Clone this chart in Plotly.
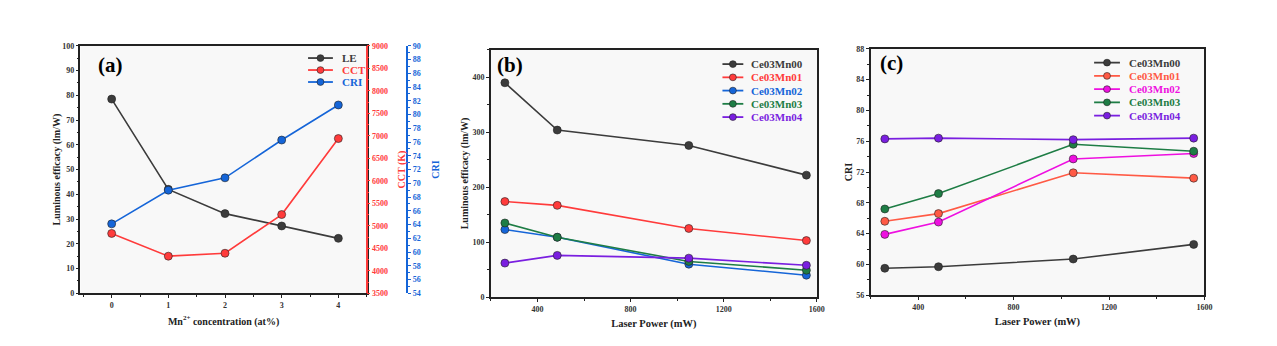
import plotly.graph_objects as go

# ---------------- data ----------------
mn_conc = [0, 1, 2, 3, 4]
le_vals = [78.5, 42.0, 32.2, 27.2, 22.2]
cct_vals = [4830, 4325, 4390, 5250, 6940]
cri_vals = [64.1, 69.0, 70.8, 76.3, 81.4]

laser_power = [260, 485, 1050, 1555]
samples = ["Ce03Mn00", "Ce03Mn01", "Ce03Mn02", "Ce03Mn03", "Ce03Mn04"]
le_b_mn00 = [390, 304, 276, 222]
le_b_mn01 = [174, 167, 125, 103]
le_b_mn02 = [123, 109, 60, 40]
le_b_mn03 = [135, 109, 65, 49]
le_b_mn04 = [62, 76, 71, 58]

cri_c_mn00 = [59.5, 59.7, 60.7, 62.6]
cri_c_mn01 = [65.6, 66.6, 71.9, 71.2]
cri_c_mn02 = [63.9, 65.5, 73.7, 74.4]
cri_c_mn03 = [67.2, 69.2, 75.6, 74.7]
cri_c_mn04 = [76.3, 76.4, 76.2, 76.4]

# ---------------- style ----------------
W, H = 1277, 346
FONT = "Liberation Serif"
GREY = "#3c3c3c"
RED = "#ff3b3b"
BLUE = "#1565d8"
colors_b = [GREY, RED, BLUE, "#1e7d45", "#7a1fe0"]
colors_c = [GREY, "#ff5a45", "#ee10e0", "#1e7d45", "#7a1fe0"]

def px(x):
    return x / W

def py(y):
    return 1 - y / H

fig = go.Figure()

def add_line(x, y, color, name, xa, ya):
    fig.add_trace(go.Scatter(
        x=x, y=y, mode="lines+markers", xaxis=xa, yaxis=ya, name=name,
        showlegend=False,
        line=dict(color=color, width=1.6),
        marker=dict(size=8, color=color, line=dict(color="#222222", width=0.6)),
    ))

# panel (a)
add_line(mn_conc, le_vals, GREY, "LE", "x", "y")
add_line(mn_conc, cct_vals, RED, "CCT", "x", "y2")
add_line(mn_conc, cri_vals, BLUE, "CRI", "x", "y3")

# panel (b)
for s, vals, c in zip(samples, [le_b_mn00, le_b_mn01, le_b_mn02, le_b_mn03, le_b_mn04], colors_b):
    add_line(laser_power, vals, c, s, "x2", "y4")

# panel (c)
for s, vals, c in zip(samples, [cri_c_mn00, cri_c_mn01, cri_c_mn02, cri_c_mn03, cri_c_mn04], colors_c):
    add_line(laser_power, vals, c, s, "x3", "y5")

titlefont = dict(family=FONT, size=10, color="#222222")
xtitlefont = dict(family=FONT, size=10.5, color="#222222")

def axis_common(color="#222222", fs=8):
    tc = "#333333" if color == "#222222" else color
    return dict(
        showline=True, linecolor=color, linewidth=1.5,
        ticks="outside", ticklen=3, tickwidth=1.2, tickcolor=color,
        showgrid=False, zeroline=False,
        tickfont=dict(family=FONT, size=fs, color=tc, weight="bold"),
        minor=dict(ticks="outside", ticklen=2, tickwidth=1, tickcolor=color),
    )

dom_a = [px(81), px(369)]
ydom_a = [py(297), py(43)]
dom_b = [px(494), px(822)]
ydom_b = [py(301), py(47)]
dom_c = [px(876), px(1212)]
ydom_c = [py(299), py(46)]

layout = dict(
    width=W, height=H, margin=dict(l=0, r=0, t=0, b=0),
    paper_bgcolor="white", plot_bgcolor="#f8f8f8",
    font=dict(family=FONT),
    showlegend=False,
    xaxis=dict(domain=dom_a, anchor="y", range=[-0.55, 4.5], tickvals=[0, 1, 2, 3, 4],
               mirror=True,
               title=dict(text="<b>Mn<sup>2+</sup> concentration (at%)</b>", font=titlefont, standoff=9),
               **axis_common()),
    yaxis=dict(domain=ydom_a, anchor="x", range=[0, 100], dtick=10, mirror=True,
               title=dict(text="<b>Luminous efficacy (lm/W)</b>", font=titlefont, standoff=0),
               **axis_common()),
    yaxis2=dict(overlaying="y", side="right", anchor="free", position=px(369),
                range=[3500, 9000], dtick=500,
                title=dict(text="<b>CCT (K)</b>", font=dict(family=FONT, size=10, color=RED), standoff=10),
                **axis_common(RED)),
    yaxis3=dict(overlaying="y", side="right", anchor="free", position=px(410),
                range=[54, 90], dtick=2,
                title=dict(text="<b>CRI</b>", font=dict(family=FONT, size=10, color=BLUE), standoff=11),
                **axis_common(BLUE)),
    xaxis2=dict(domain=dom_b, anchor="y4", range=[200, 1600], tickvals=[400, 800, 1200, 1600],
                mirror=True,
                title=dict(text="<b>Laser Power (mW)</b>", font=xtitlefont, standoff=7),
                **axis_common()),
    yaxis4=dict(domain=ydom_b, anchor="x2", range=[0, 450], tickvals=[0, 100, 200, 300, 400],
                mirror=True,
                title=dict(text="<b>Luminous efficacy (lm/W)</b>", font=titlefont, standoff=2),
                **axis_common()),
    xaxis3=dict(domain=dom_c, anchor="y5", range=[200, 1600], tickvals=[400, 800, 1200, 1600],
                mirror=True,
                title=dict(text="<b>Laser Power (mW)</b>", font=xtitlefont, standoff=7),
                **axis_common()),
    yaxis5=dict(domain=ydom_c, anchor="x3", range=[56, 88], dtick=4, mirror=True,
                title=dict(text="<b>CRI</b>", font=titlefont, standoff=2),
                **axis_common()),
)

layout["xaxis"]["minor"]["dtick"] = 0.5
layout["xaxis"]["minor"]["tick0"] = 0
layout["yaxis"]["minor"]["dtick"] = 5
layout["yaxis2"]["minor"]["dtick"] = 250
layout["yaxis3"]["minor"]["dtick"] = 1
layout["xaxis2"]["minor"]["dtick"] = 200
layout["xaxis2"]["minor"]["tick0"] = 0
layout["yaxis4"]["minor"]["dtick"] = 50
layout["xaxis3"]["minor"]["dtick"] = 200
layout["xaxis3"]["minor"]["tick0"] = 0
layout["yaxis5"]["minor"]["dtick"] = 2

fig.update_layout(**layout)

# panel labels
for label, x, y in [("(a)", 97, 63), ("(b)", 498, 63), ("(c)", 884, 61)]:
    fig.add_annotation(text=f"<b>{label}</b>", x=px(x), y=py(y), xref="paper", yref="paper",
                       xanchor="left", yanchor="middle", showarrow=False,
                       font=dict(family=FONT, size=21, color="black"))

# compact legends (line + marker + coloured text)
def draw_legend(names, colors, x0, x1, xt, y0, dy, fs):
    for i, (n, c) in enumerate(zip(names, colors)):
        yy = y0 + i * dy
        fig.add_shape(type="line", xref="paper", yref="paper",
                      x0=px(x0), x1=px(x1), y0=py(yy), y1=py(yy),
                      line=dict(color=c, width=1.8))
        xm = (x0 + x1) / 2
        r = 3.5
        fig.add_shape(type="circle", xref="paper", yref="paper",
                      x0=px(xm - r), x1=px(xm + r), y0=py(yy + r), y1=py(yy - r),
                      fillcolor=c, line=dict(color="#222222", width=0.6))
        fig.add_annotation(text=f"<b>{n}</b>", x=px(xt), y=py(yy), xref="paper", yref="paper",
                           xanchor="left", yanchor="middle", showarrow=False,
                           font=dict(family=FONT, size=fs, color=c))

draw_legend(["LE", "CCT", "CRI"], [GREY, RED, BLUE], 310, 335, 342, 55.5, 12.3, 11)
draw_legend(samples, colors_b, 727, 748, 754, 61.7, 13.6, 11)
draw_legend(samples, colors_c, 1101, 1127, 1134, 60.2, 13.6, 11)

fig.write_html("out.html")
